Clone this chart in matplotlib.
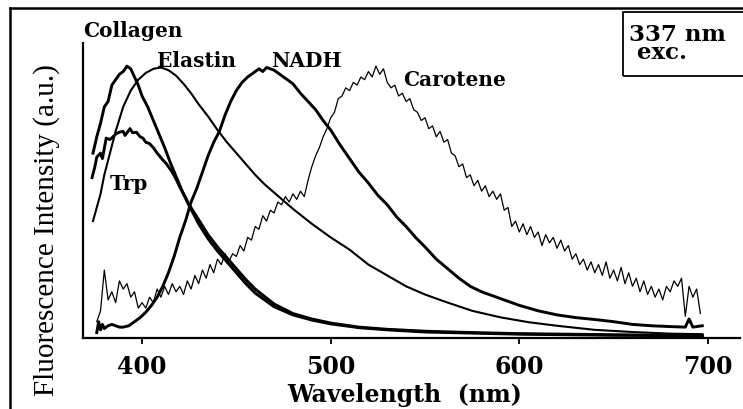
import numpy as np
import matplotlib
matplotlib.use("Agg")
import matplotlib.pyplot as plt
from matplotlib.lines import Line2D
from matplotlib.patches import Rectangle

# ---- spectra (normalised intensity vs wavelength in nm) ----
collagen_wl = [374, 376, 378, 380, 382, 384, 386, 388, 390, 392, 394, 396, 398, 400,
               403, 406, 409, 412, 415, 418, 421, 424, 427, 430, 435, 440, 445, 450,
               455, 460, 470, 480, 490, 500, 515, 530, 550, 575, 600, 625, 650, 675, 697]
collagen_int = [0.68, 0.74, 0.79, 0.85, 0.87, 0.93, 0.95, 0.97, 0.98, 1.00, 0.99, 0.96, 0.93, 0.89,
                0.85, 0.80, 0.75, 0.70, 0.645, 0.595, 0.545, 0.50, 0.46, 0.42, 0.365, 0.32, 0.28, 0.24,
                0.20, 0.165, 0.115, 0.085, 0.066, 0.052, 0.038, 0.030, 0.022, 0.018, 0.014, 0.012, 0.010, 0.009, 0.008]

trp_wl = [373.5, 375, 376, 378, 379, 381, 383, 384.6, 386, 388, 390, 391, 393.6, 395, 397,
          399, 400.5, 402, 404, 406, 408, 411, 413, 416, 418, 420, 422, 425, 430, 435, 440,
          445, 450, 455, 460, 470, 480, 490, 500, 515, 530, 550, 575, 600, 625, 650, 675, 697]
trp_int = [0.59, 0.63, 0.665, 0.68, 0.66, 0.735, 0.73, 0.74, 0.75, 0.757, 0.76, 0.745, 0.77, 0.755, 0.757,
           0.74, 0.735, 0.72, 0.715, 0.70, 0.68, 0.655, 0.64, 0.61, 0.585, 0.555, 0.53, 0.49, 0.435, 0.38, 0.335,
           0.295, 0.255, 0.215, 0.18, 0.125, 0.09, 0.07, 0.055, 0.04, 0.032, 0.025, 0.02, 0.016, 0.014, 0.012, 0.01, 0.01]

elastin_wl = [374, 376, 378, 380, 383, 386, 390, 394, 398, 402, 406, 410, 414, 418, 422, 426,
              430, 435, 440, 445, 450, 455, 460, 465, 470, 475, 480, 490, 500, 510, 520, 530,
              540, 550, 560, 575, 590, 605, 620, 640, 660, 680, 697]
elastin_int = [0.43, 0.48, 0.53, 0.60, 0.68, 0.76, 0.85, 0.91, 0.95, 0.975, 0.99, 0.995, 0.985, 0.965, 0.935, 0.90,
               0.86, 0.815, 0.765, 0.72, 0.68, 0.64, 0.60, 0.565, 0.535, 0.505, 0.475, 0.42, 0.37, 0.325, 0.27, 0.23,
               0.19, 0.16, 0.135, 0.10, 0.076, 0.058, 0.045, 0.030, 0.022, 0.016, 0.014]

nadh_wl = [376, 377, 378, 379, 380, 382, 384, 386, 388, 390, 393, 396, 399, 402, 405, 408, 411,
           414, 417, 420, 423, 426, 429, 432, 435, 438, 441, 444, 447, 450, 453, 456, 459, 462,
           464, 466, 468, 470, 473, 476, 480, 484, 488, 492, 496, 500, 505, 510, 515, 520, 525,
           530, 535, 540, 545, 550, 556, 562, 568, 574, 580, 586, 592, 600, 610, 620, 630, 640,
           650, 660, 670, 680, 688, 690, 692, 697]
nadh_int = [0.02, 0.06, 0.03, 0.05, 0.035, 0.045, 0.05, 0.045, 0.04, 0.04, 0.045, 0.06, 0.075, 0.095, 0.12, 0.15, 0.19,
            0.24, 0.30, 0.37, 0.43, 0.50, 0.55, 0.61, 0.67, 0.72, 0.76, 0.82, 0.87, 0.91, 0.94, 0.96, 0.975, 0.99,
            0.98, 0.995, 0.99, 0.985, 0.97, 0.955, 0.935, 0.90, 0.87, 0.84, 0.80, 0.765, 0.71, 0.66, 0.61, 0.57, 0.525,
            0.49, 0.445, 0.41, 0.37, 0.335, 0.29, 0.255, 0.22, 0.19, 0.17, 0.155, 0.14, 0.12, 0.10, 0.085, 0.075, 0.068,
            0.06, 0.05, 0.045, 0.042, 0.04, 0.07, 0.04, 0.045]

carotene_wl = list(range(376, 698, 2))
carotene_int = [0.06, 0.10, 0.25, 0.14, 0.17, 0.13, 0.21, 0.18, 0.20, 0.15, 0.17, 0.11, 0.13, 0.11, 0.15, 0.13,
                0.18, 0.15, 0.19, 0.16, 0.20, 0.17, 0.19, 0.16, 0.21, 0.18, 0.23, 0.20, 0.25, 0.22, 0.27, 0.24,
                0.29, 0.27, 0.31, 0.28, 0.31, 0.30, 0.34, 0.32, 0.37, 0.36, 0.41, 0.40, 0.45, 0.43, 0.47, 0.46,
                0.50, 0.49, 0.52, 0.50, 0.53, 0.51, 0.54, 0.52, 0.58, 0.63, 0.67, 0.70, 0.74, 0.77, 0.81, 0.83,
                0.88, 0.89, 0.92, 0.91, 0.94, 0.93, 0.96, 0.95, 0.98, 0.96, 1.00, 0.97, 0.99, 0.94, 0.92, 0.93,
                0.89, 0.90, 0.87, 0.88, 0.84, 0.83, 0.80, 0.81, 0.77, 0.78, 0.74, 0.76, 0.72, 0.73, 0.68, 0.67,
                0.63, 0.64, 0.59, 0.60, 0.56, 0.58, 0.54, 0.56, 0.52, 0.54, 0.51, 0.53, 0.47, 0.48, 0.41, 0.43,
                0.39, 0.42, 0.38, 0.41, 0.37, 0.39, 0.34, 0.38, 0.35, 0.37, 0.33, 0.36, 0.32, 0.34, 0.29, 0.31,
                0.27, 0.29, 0.25, 0.28, 0.24, 0.27, 0.23, 0.28, 0.22, 0.25, 0.21, 0.26, 0.20, 0.24, 0.19, 0.22,
                0.17, 0.21, 0.16, 0.19, 0.15, 0.18, 0.14, 0.19, 0.17, 0.21, 0.19, 0.22, 0.08, 0.19, 0.15, 0.18, 0.09]

x_ticks = [400, 500, 600, 700]
x_tick_labels = ["400", "500", "600", "700"]

W, H = 743, 409
fig = plt.figure(figsize=(W / 100, H / 100), dpi=100)
fig.patch.set_facecolor("white")

# axes box in pixel units
ax_left, ax_right, ax_top, ax_bottom = 83, 740, 43, 338
ax = fig.add_axes([ax_left / W, 1 - ax_bottom / H, (ax_right - ax_left) / W, (ax_bottom - ax_top) / H])
ax.set_xlim(368.7, 717.0)
ax.set_ylim(0, 1.085)

thick = dict(color="black", lw=2.1, solid_joinstyle="round")
ax.plot(collagen_wl, collagen_int, **thick)
ax.plot(trp_wl, trp_int, **thick)
ax.plot(nadh_wl, nadh_int, **thick)
ax.plot(elastin_wl, elastin_int, color="black", lw=1.5)
ax.plot(carotene_wl, carotene_int, color="black", lw=0.9)

for side in ("top", "right"):
    ax.spines[side].set_visible(False)
for side in ("left", "bottom"):
    ax.spines[side].set_linewidth(1.6)
ax.set_yticks([])
ax.set_xticks(x_ticks)
ax.set_xticklabels(x_tick_labels)
ax.tick_params(axis="x", direction="out", length=4.5, width=1.3, pad=8)
for lab in ax.get_xticklabels():
    lab.set_fontfamily("DejaVu Serif")
    lab.set_fontweight("bold")
    lab.set_fontsize(17)

lab_font = dict(family="DejaVu Serif", fontweight="bold", fontsize=14.5, ha="left", va="center")
ax.text(368.9, 1.13, "Collagen", clip_on=False, **lab_font)
ax.text(408.0, 1.02, "Elastin", **lab_font)
ax.text(468.4, 1.02, "NADH", **lab_font)
ax.text(538.3, 0.95, "Carotene", **lab_font)
ax.text(383.0, 0.566, "Trp", **lab_font)

fig.text(405 / W, 1 - 395 / H, "Wavelength  (nm)", family="DejaVu Serif", fontweight="bold",
         fontsize=17, ha="center", va="center")
fig.text(47 / W, 1 - 230 / H, "Fluorescence Intensity (a.u.)", family="Liberation Serif",
         fontsize=21, rotation=90, ha="center", va="center")

# excitation box
fig.add_artist(Rectangle((623 / W, 1 - 76 / H), 130 / W, 64 / H, transform=fig.transFigure,
                         fill=False, edgecolor="black", lw=1.3))
fig.text(629 / W, 1 - 44 / H, "337 nm\n exc.", family="DejaVu Serif", fontweight="bold", fontsize=16.5,
         ha="left", va="center", linespacing=0.78)

# outer frame (top and left edges)
fig.add_artist(Line2D([10 / W, 1.0], [1 - 8 / H, 1 - 8 / H], transform=fig.transFigure, color="black", lw=1.8))
fig.add_artist(Line2D([10 / W, 10 / W], [0.0, 1 - 8 / H], transform=fig.transFigure, color="black", lw=1.8))

fig.savefig("out.png", dpi=100)
